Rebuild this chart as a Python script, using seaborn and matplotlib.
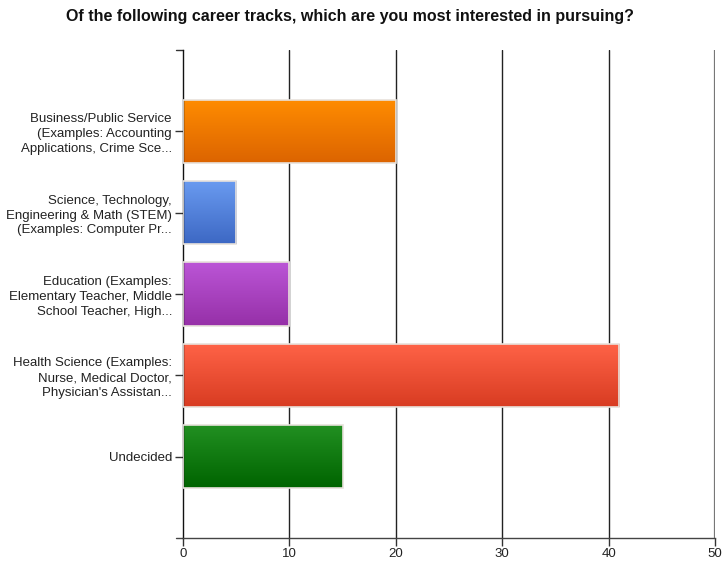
import matplotlib
matplotlib.use("Agg")
import matplotlib.pyplot as plt
import matplotlib.colors as mcolors
import numpy as np
import pandas as pd
import seaborn as sns

categories = [
    "Business/Public Service\n(Examples: Accounting\nApplications, Crime Sce...",
    "Science, Technology,\nEngineering & Math (STEM)\n(Examples: Computer Pr...",
    "Education (Examples:\nElementary Teacher, Middle\nSchool Teacher, High...",
    "Health Science (Examples:\nNurse, Medical Doctor,\nPhysician's Assistan...",
    "Undecided",
]
values = [20, 5, 10, 41, 15]
top_colors = ["#ff8c00", "#6a9bf0", "#bb55d6", "#ff6347", "#229022"]
bottom_colors = ["#dc6400", "#3d68c4", "#9630a8", "#d83c22", "#006400"]
x_ticks = [0, 10, 20, 30, 40, 50]

sns.set_theme(style="white")
plt.rcParams["font.family"] = ["Liberation Sans", "DejaVu Sans"]

df = pd.DataFrame({"category": categories, "value": values})

fig = plt.figure(figsize=(7.24, 5.63), dpi=100)
ax = fig.add_axes([183 / 724, 25 / 563, 532 / 724, 488 / 563])

sns.barplot(data=df, x="value", y="category", orient="h", ax=ax,
            width=0.78, color="white", edgecolor="#e8e2dc", linewidth=1.2, zorder=3)

ax.set_xlim(0, 50)
ax.set_ylim(len(categories), -1)
ax.set_xticks(x_ticks)
ax.set_xlabel("")
ax.set_ylabel("")

for i, patch in enumerate(ax.patches):
    x0, y0 = patch.get_x(), patch.get_y()
    w, h = patch.get_width(), patch.get_height()
    c1 = np.array(mcolors.to_rgb(top_colors[i]))
    c2 = np.array(mcolors.to_rgb(bottom_colors[i]))
    t = np.linspace(0, 1, 64)[:, None]
    grad = (c1 * (1 - t) + c2 * t)[:, None, :]
    im = ax.imshow(grad, extent=[x0, x0 + w, y0 + h, y0], aspect="auto",
                   zorder=2.5, interpolation="bilinear")
    im.set_clip_path(patch)
    patch.set_facecolor("none")

ax.set_xlim(0, 50)
ax.set_ylim(len(categories), -1)

for xv in x_ticks[1:]:
    ax.axvline(xv, color="#222222" if xv < 50 else "#777777",
               linewidth=1.0 if xv < 50 else 1.6, zorder=1)

for s in ["top", "right"]:
    ax.spines[s].set_visible(False)
ax.spines["left"].set_color("#111111")
ax.spines["left"].set_linewidth(1.0)
ax.spines["bottom"].set_color("#444444")
ax.spines["bottom"].set_linewidth(1.0)

ax.tick_params(axis="y", length=6, width=1, color="#333333", labelsize=9.5,
               labelcolor="#222222", pad=2, left=True)
ax.tick_params(axis="x", length=6, width=1, color="#333333", labelsize=9.5,
               labelcolor="#222222", pad=1, bottom=True)
for lab in ax.get_yticklabels():
    lab.set_linespacing(1.3)
    lab.set_horizontalalignment("right")

# small tick at top-left corner and extension of bottom axis to the left
ax.plot([-0.7, 0], [-1, -1], color="#333333", linewidth=1, clip_on=False)
ax.plot([-0.7, 0], [len(categories), len(categories)], color="#444444",
        linewidth=1, clip_on=False)

fig.text(350 / 724, 1 - 16 / 563,
         "Of the following career tracks, which are you most interested in pursuing?",
         ha="center", va="center", fontsize=11.5, fontweight="bold", color="#111111")

fig.savefig("out.png", dpi=100)
